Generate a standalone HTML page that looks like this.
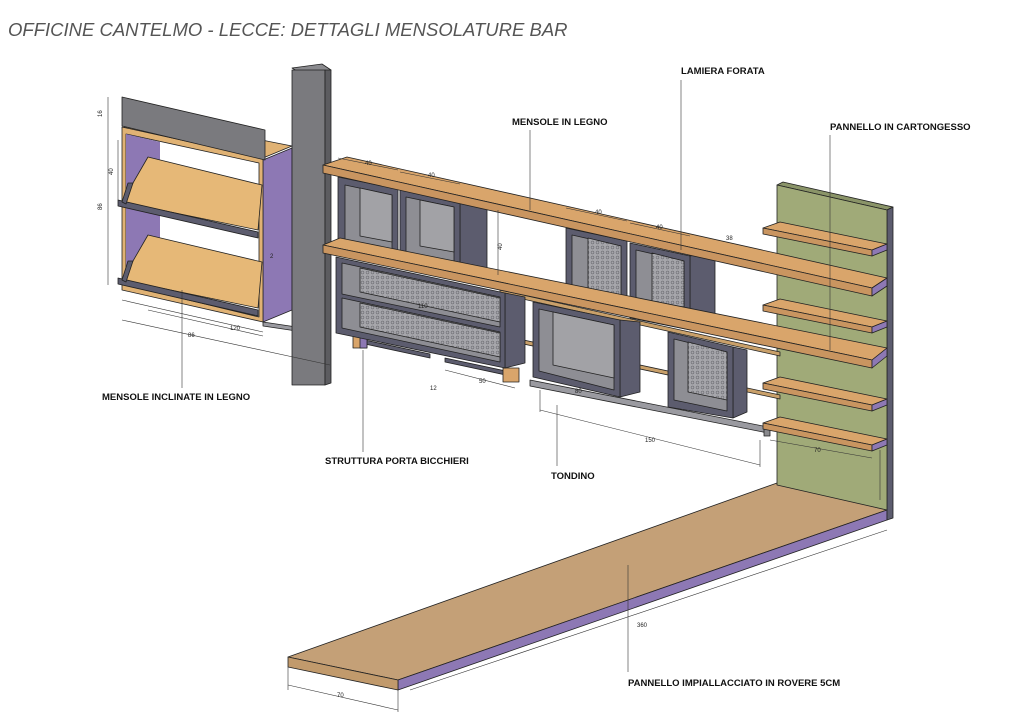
<!DOCTYPE html>
<html><head><meta charset="utf-8"><style>
html,body{margin:0;padding:0;background:#fff;}
svg{display:block}
.t{font-family:"Liberation Sans",sans-serif;font-weight:bold;font-size:9.5px;fill:#111}
.d{font-family:"Liberation Sans",sans-serif;font-size:6px;fill:#222}
</style></head><body>
<svg width="1024" height="724" viewBox="0 0 1024 724" xmlns="http://www.w3.org/2000/svg">
<defs>
<pattern id="perf" width="5" height="5" patternUnits="userSpaceOnUse">
<rect width="5" height="5" fill="#a6a6ab"/><circle cx="2.5" cy="2.5" r="1.4" fill="none" stroke="#6c6c72" stroke-width="0.6"/>
</pattern>
</defs>
<text x="8" y="36" font-family="Liberation Sans, sans-serif" font-style="italic" font-size="18.5" fill="#555">OFFICINE CANTELMO - LECCE: DETTAGLI MENSOLATURE BAR</text>

<g stroke="#222" stroke-width="0.8" stroke-linejoin="round">
<!-- counter -->
<polygon points="288,657 777,483 887,510 398,680" fill="#c4a077"/>
<polygon points="398,680 887,510 887,520 398,690" fill="#8d78b4"/>
<polygon points="288,657 398,680 398,690 288,667" fill="#c19a6c"/>
<!-- green panel -->
<polygon points="777,185 783,182 893,207 887,210" fill="#8a9468"/>
<polygon points="887,210 893,207 893,518 887,520" fill="#5c5c6e"/>
<polygon points="777,185 887,210 887,510 777,485" fill="#a0aa78"/>

<!-- left unit -->
<polygon points="263,160 292,148 292,310 263,322" fill="#8d78b4"/>
<polygon points="122,128 263,158 292,146 150,118" fill="#e0b274"/>
<polygon points="122,127 263,158 263,322 122,290" fill="#e0b274"/>
<polygon points="126,134 259,163 259,317 126,285" fill="#fff"/>
<polygon points="126,134 160,142 160,293 126,285" fill="#8d78b4" stroke="none"/>
<polygon points="148,157 262,185 258,230 122,202" fill="#e6b877"/>
<polygon points="118,200 258,232 258,238 118,206" fill="#5c5c6e"/>
<polygon points="122,202 128,183 133,183 126,204" fill="#5c5c6e"/>
<polygon points="148,235 262,262 258,308 122,280" fill="#e6b877"/>
<polygon points="118,278 258,310 258,316 118,284" fill="#5c5c6e"/>
<polygon points="122,280 128,261 133,261 126,282" fill="#5c5c6e"/>
<polygon points="122,97 265,130 265,160 122,126" fill="#7a7a7e"/>
<!-- rod behind column -->
<polygon points="263,322 330,332 330,336 263,326" fill="#9a9aa0"/>
<!-- column -->
<polygon points="292,68 322,64 331,70 300,73" fill="#8a8a8e"/>
<rect x="292" y="70" width="33" height="315" fill="#7a7a7e"/>
<polygon points="325,70 331,70 331,383 325,385" fill="#5c5c60"/>

<!-- rods -->
<g fill="#c9a06a">
<polygon points="500,335 780,395 780,399 500,339"/>
<polygon points="500,290 780,352 780,356 500,294"/>
</g>
<!-- tondino -->
<polygon points="530,380 768,427 768,433 530,386" fill="#9a9aa0"/>
<rect x="764" y="424" width="6" height="12" fill="#8a8a8e"/>
<!-- porta bicchieri -->
<polygon points="365,340 430,354 430,358 365,344" fill="#5c5c6e"/>
<polygon points="445,358 515,373 515,377 445,362" fill="#5c5c6e"/>
<rect x="353" y="336" width="14" height="12" fill="#d9a56b"/>
<rect x="360" y="338" width="7" height="10" fill="#8d78b4"/>
<rect x="503" y="368" width="16" height="14" fill="#d9a56b"/>

<!-- boxes -->
<polygon points="338,177 398,189 398,262 338,250" fill="#5c5c6e"/>
<polygon points="345,185 392,195 392,255 345,244" fill="#8e8e94"/>
<polygon points="360,188 392,195 392,242 360,236" fill="#a2a2a6"/>

<polygon points="460,202 487,207 487,268 460,272" fill="#5c5c6e"/>
<polygon points="400,190 460,202 460,272 400,262" fill="#5c5c6e"/>
<polygon points="406,197 454,207 454,265 406,255" fill="#8e8e94"/>
<polygon points="420,200 454,207 454,252 420,246" fill="#a2a2a6"/>

<polygon points="505,293 525,297 525,363 505,368" fill="#5c5c6e"/>
<polygon points="336,257 505,293 505,368 336,333" fill="#5c5c6e"/>
<polygon points="342,263 500,297 500,327 342,294" fill="#8e8e94"/>
<polygon points="360,268 500,298 500,322 360,292" fill="url(#perf)"/>
<polygon points="342,298 500,332 500,362 342,328" fill="#8e8e94"/>
<polygon points="360,303 500,333 500,357 360,327" fill="url(#perf)"/>

<polygon points="566,228 627,241 627,315 566,303" fill="#5c5c6e"/>
<polygon points="572,235 621,246 621,308 572,297" fill="#8e8e94"/>
<polygon points="588,238 621,246 621,296 588,290" fill="url(#perf)"/>

<polygon points="690,256 715,252 715,322 690,330" fill="#5c5c6e"/>
<polygon points="630,243 690,256 690,330 630,318" fill="#5c5c6e"/>
<polygon points="636,250 684,261 684,323 636,312" fill="#8e8e94"/>
<polygon points="652,253 684,261 684,311 652,305" fill="url(#perf)"/>

<polygon points="620,320 640,322 640,392 620,397" fill="#5c5c6e"/>
<polygon points="533,302 620,320 620,397 533,377" fill="#5c5c6e"/>
<polygon points="539,309 614,325 614,390 539,371" fill="#8e8e94"/>
<polygon points="553,312 614,325 614,378 553,365" fill="#a2a2a6"/>

<polygon points="733,347 747,350 747,412 733,418" fill="#5c5c6e"/>
<polygon points="668,332 733,347 733,418 668,407" fill="#5c5c6e"/>
<polygon points="674,339 727,352 727,411 674,400" fill="#8e8e94"/>
<polygon points="688,342 727,352 727,400 688,392" fill="url(#perf)"/>

<!-- long shelves -->
<polygon points="323,165 347,157 887,278 872,288" fill="#d9a56b"/>
<polygon points="323,165 872,288 872,296 323,173" fill="#c99560"/>
<polygon points="872,288 887,278 887,286 872,296" fill="#8d78b4"/>
<polygon points="323,245 340,238 887,348 872,360" fill="#d9a56b"/>
<polygon points="323,245 872,360 872,368 323,253" fill="#c99560"/>
<polygon points="872,360 887,348 887,356 872,368" fill="#8d78b4"/>

<!-- short shelves -->
<g>
<polygon points="763,228 780,222 887,244 872,250" fill="#d9a56b"/><polygon points="763,228 872,250 872,256 763,234" fill="#c99560"/><polygon points="872,250 887,244 887,250 872,256" fill="#8d78b4"/>
<polygon points="763,305 780,299 887,321 872,327" fill="#d9a56b"/><polygon points="763,305 872,327 872,333 763,311" fill="#c99560"/><polygon points="872,327 887,321 887,327 872,333" fill="#8d78b4"/>
<polygon points="763,383 780,377 887,399 872,405" fill="#d9a56b"/><polygon points="763,383 872,405 872,411 763,389" fill="#c99560"/><polygon points="872,405 887,399 887,405 872,411" fill="#8d78b4"/>
<polygon points="763,423 780,417 887,439 872,445" fill="#d9a56b"/><polygon points="763,423 872,445 872,451 763,429" fill="#c99560"/><polygon points="872,445 887,439 887,445 872,451" fill="#8d78b4"/>
</g>
</g>

<!-- dimension & leader lines -->
<g stroke="#333" stroke-width="0.6" fill="none">
<line x1="108" y1="97" x2="108" y2="285"/>
<line x1="118" y1="140" x2="118" y2="200"/>
<line x1="122" y1="300" x2="263" y2="332"/>
<line x1="148" y1="310" x2="263" y2="336"/>
<line x1="122" y1="320" x2="330" y2="365"/>
<line x1="338" y1="158" x2="398" y2="170"/>
<line x1="400" y1="172" x2="460" y2="184"/>
<line x1="566" y1="208" x2="627" y2="221"/>
<line x1="630" y1="223" x2="690" y2="236"/>
<line x1="540" y1="410" x2="760" y2="465"/>
<line x1="540" y1="390" x2="540" y2="412"/>
<line x1="760" y1="440" x2="760" y2="467"/>
<line x1="445" y1="370" x2="515" y2="388"/>
<line x1="498" y1="210" x2="498" y2="275"/>
<line x1="288" y1="685" x2="398" y2="710"/>
<line x1="288" y1="667" x2="288" y2="690"/>
<line x1="398" y1="690" x2="398" y2="712"/>
<line x1="410" y1="690" x2="887" y2="530"/>
<line x1="880" y1="450" x2="880" y2="500"/>
<line x1="770" y1="440" x2="872" y2="458"/>
<line x1="182" y1="290" x2="182" y2="388"/>
<line x1="363" y1="350" x2="363" y2="452"/>
<line x1="557" y1="405" x2="557" y2="466"/>
<line x1="681" y1="80" x2="681" y2="250"/>
<line x1="530" y1="130" x2="530" y2="210"/>
<line x1="830" y1="135" x2="830" y2="350"/>
<line x1="628" y1="565" x2="628" y2="672"/>
</g>
<g class="d">
<text x="102" y="117" transform="rotate(-90 102 117)">16</text>
<text x="102" y="210" transform="rotate(-90 102 210)">86</text>
<text x="113" y="175" transform="rotate(-90 113 175)">40</text>
<text x="230" y="330">120</text>
<text x="188" y="337">86</text>
<text x="365" y="165">40</text>
<text x="428" y="177">40</text>
<text x="595" y="214">40</text>
<text x="656" y="229">40</text>
<text x="418" y="308">110</text>
<text x="270" y="258">2</text>
<text x="502" y="250" transform="rotate(-90 502 250)">40</text>
<text x="479" y="383">50</text>
<text x="430" y="390">12</text>
<text x="575" y="393">80</text>
<text x="645" y="442">150</text>
<text x="814" y="452">70</text>
<text x="637" y="627">360</text>
<text x="337" y="697">70</text>
<text x="726" y="240">38</text>
</g>
<g class="t">
<text x="102" y="400">MENSOLE INCLINATE IN LEGNO</text>
<text x="325" y="464">STRUTTURA PORTA BICCHIERI</text>
<text x="551" y="479">TONDINO</text>
<text x="681" y="74">LAMIERA FORATA</text>
<text x="512" y="125">MENSOLE IN LEGNO</text>
<text x="830" y="130">PANNELLO IN CARTONGESSO</text>
<text x="628" y="686">PANNELLO IMPIALLACCIATO IN ROVERE 5CM</text>
</g>
</svg>
</body></html>
